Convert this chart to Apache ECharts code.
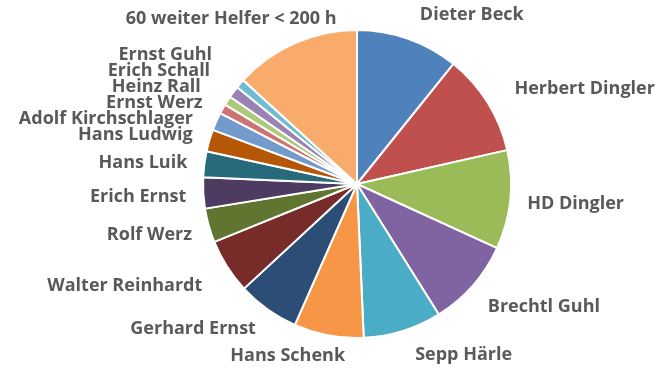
<!DOCTYPE html>
<html>
<head>
<meta charset="utf-8">
<script src="https://cdn.jsdelivr.net/npm/echarts@6/dist/echarts.min.js"></script>
<style>html,body{margin:0;padding:0;background:#fff}#c{width:671px;height:374px}</style>
</head>
<body>
<div id="c"></div>
<script>
const names = ["Dieter Beck","Herbert Dingler","HD Dingler","Brechtl Guhl","Sepp Härle","Hans Schenk","Gerhard Ernst","Walter Reinhardt","Rolf Werz","Erich Ernst","Hans Luik","Hans Ludwig","Adolf Kirchschlager","Ernst Werz","Heinz Rall","Erich Schall","Ernst Guhl","60 weiter Helfer < 200 h"];
const values = [38.8,38.5,37.3,33.3,29.6,26.3,23.4,20.7,12.9,11.7,9.8,8.3,6.8,3.6,3.5,4.4,3.5,47.6];
const colors = ["#4F81BD","#C0504D","#9BBB59","#8064A2","#4BACC6","#F79646","#2C4D75","#772C2A","#5F7530","#4D3B62","#276A7C","#B65708","#729ACA","#CD7371","#AFC97A","#9983B5","#6FBDD1","#F9AB6B"];

const CX = 357, CY = 184, R = 154, DIST = 17, BOXH = 18, STACK = 16;
// label anchors derived from the same proportions the pie uses (Excel-like outside-end placement)
const total = values.reduce((a,b)=>a+b,0);
let acc = 0;
const labelPos = values.map(v=>{
  const t = (acc + v/2)/total*2*Math.PI; acc += v;
  const ux = Math.sin(t), uy = -Math.cos(t);
  const px = CX + (R+DIST)*ux, py = CY + (R+DIST)*uy;
  const left = ux < 0;
  return {x: px + (left ? -1 : 1)*9*(1-Math.abs(ux)), y: py + uy*BOXH/2 + (left ? 2 : 1), left: left};
});
// stack the small upper-left labels (Excel style)
for (let i = 12; i < 17; i++) labelPos[i].y = labelPos[i-1].y - STACK;
const labelShift = {1:[11,-1],3:[0,3],4:[1,-2],5:[27,-7],6:[2,-4],7:[-9,3],12:[-7,0],13:[-4,0],14:[-11,0],15:[-8,0],16:[-13,0],17:[54,-2]};

const chart = echarts.init(document.getElementById('c'), null, {renderer:'canvas'});
chart.setOption({
  animation:false,
  series:[{
    type:'pie',
    center:[CX,CY],
    radius:R,
    startAngle:90,
    clockwise:true,
    avoidLabelOverlap:false,
    itemStyle:{borderColor:'#fff',borderWidth:2},
    label:{
      show:true,position:'outside',
      fontFamily:'Open Sans',fontWeight:'bold',fontSize:18,color:'#595959',
      lineHeight:16
    },
    labelLine:{show:false,length:DIST,length2:0},
    labelLayout:function(p){
      const lp = labelPos[p.dataIndex];
      const s = labelShift[p.dataIndex] || [0,0];
      return {
        x: lp.x + s[0],
        y: lp.y + s[1],
        align: lp.left ? 'right' : 'left',
        verticalAlign:'middle'
      };
    },
    data:names.map((n,i)=>({name:n,value:values[i],itemStyle:{color:colors[i]}}))
  }]
});
</script>
</body>
</html>
